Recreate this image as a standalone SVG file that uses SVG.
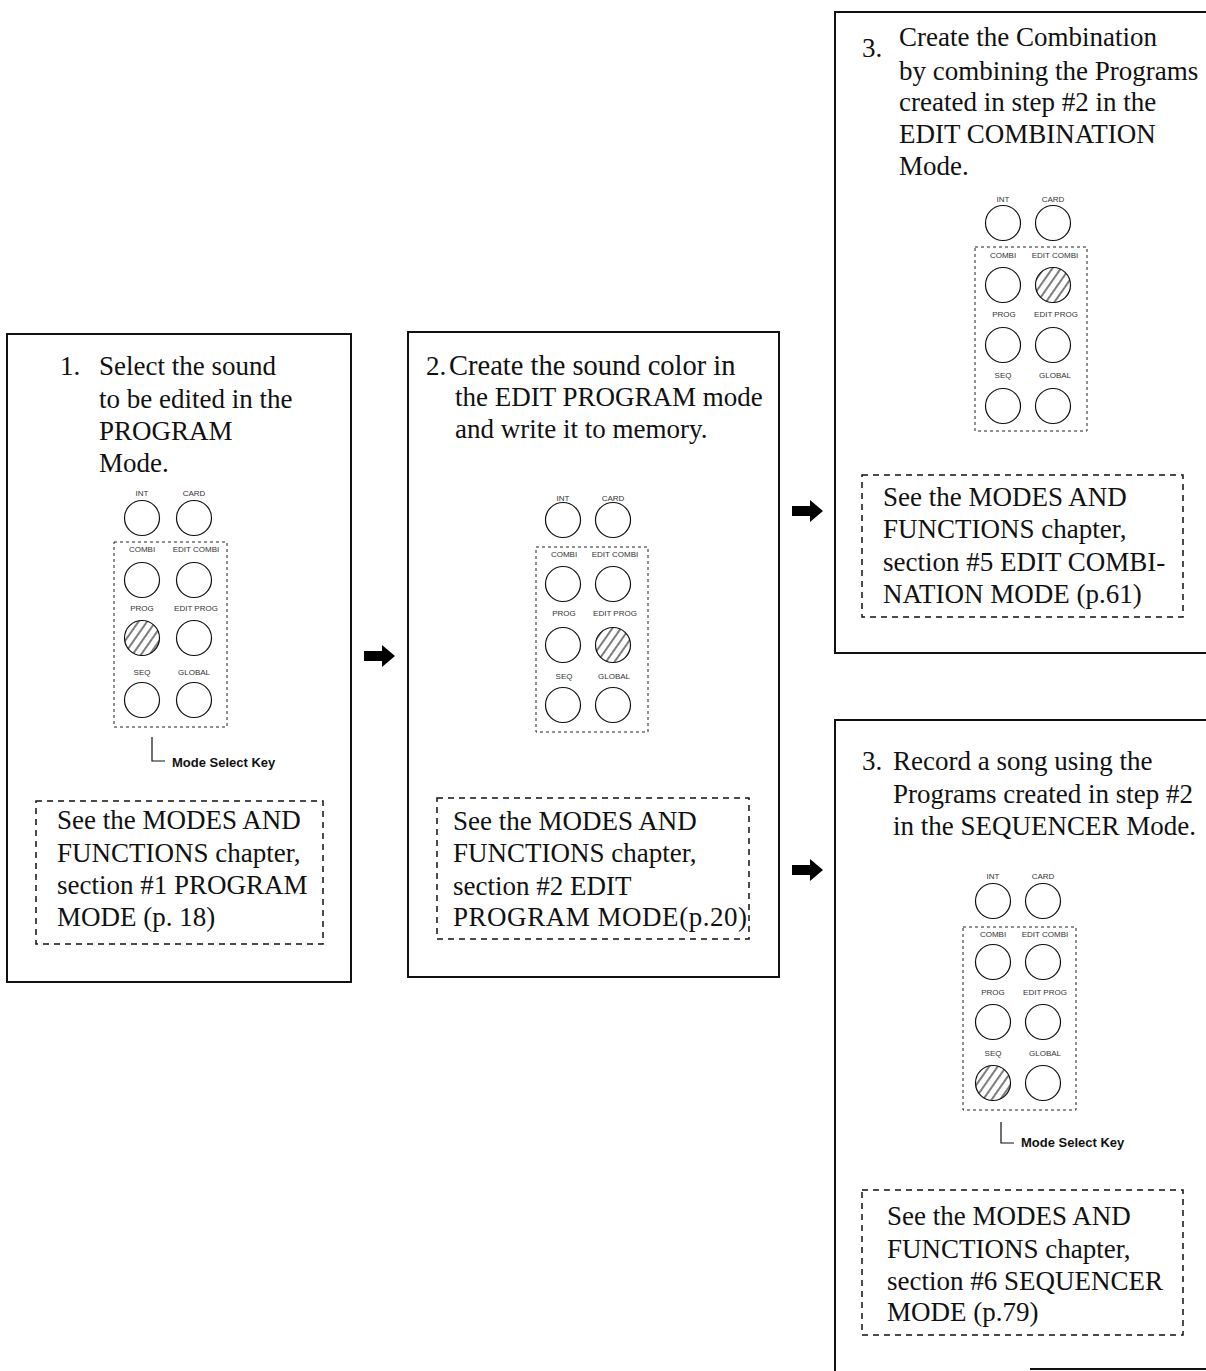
<svg xmlns="http://www.w3.org/2000/svg" width="1206" height="1371" viewBox="0 0 1206 1371">
<style>
.frame{fill:none;stroke:#111;stroke-width:2}
.ref{fill:none;stroke:#111;stroke-width:1.5;stroke-dasharray:6 5}
.pan{fill:none;stroke:#222;stroke-width:1;stroke-dasharray:3 3}
.btn{fill:#fff;stroke:#111;stroke-width:1.2}
.hat{fill:url(#hatch);stroke:#111;stroke-width:1.2}
.t{font-family:"Liberation Serif","Times New Roman",serif;font-size:27px;fill:#111}
.k{font-family:"Liberation Sans",Arial,sans-serif;font-size:8px;fill:#333;text-anchor:middle}
.msk{font-family:"Liberation Sans",Arial,sans-serif;font-size:13px;font-weight:bold;fill:#111}
.lead{fill:none;stroke:#111;stroke-width:1.2}
.arrow{fill:#000}
</style>
<defs>
<pattern id="hatch" width="7" height="7" patternUnits="userSpaceOnUse" patternTransform="rotate(35)">
<line x1="1" y1="0" x2="1" y2="7" stroke="#111" stroke-width="1.1"/>
</pattern>
<polygon id="arr" class="arrow" points="0,-5 18,-5 18,-11 31,0 18,11 18,5 0,5"/>
</defs>
<rect width="1206" height="1371" fill="#fff"/>

<g id="step1">
<rect class="frame" x="7" y="334" width="344" height="648"/>
<text class="t" x="60" y="375">1.</text>
<text class="t" x="99" y="375">Select the sound</text>
<text class="t" x="99" y="408">to be edited in the</text>
<text class="t" x="99" y="440">PROGRAM</text>
<text class="t" x="99" y="472">Mode.</text>
<g id="panel1">
<text class="k" x="142" y="496">INT</text><text class="k" x="194" y="496">CARD</text>
<circle class="btn" cx="142" cy="518" r="17.5"/><circle class="btn" cx="194" cy="518" r="17.5"/>
<rect class="pan" x="114" y="542" width="113" height="185"/>
<text class="k" x="142" y="552">COMBI</text><text class="k" x="196" y="552">EDIT COMBI</text>
<circle class="btn" cx="142" cy="580" r="17.5"/><circle class="btn" cx="194" cy="580" r="17.5"/>
<text class="k" x="142" y="611">PROG</text><text class="k" x="196" y="611">EDIT PROG</text>
<circle class="hat" cx="142" cy="638" r="17.5"/><circle class="btn" cx="194" cy="638" r="17.5"/>
<text class="k" x="142" y="675">SEQ</text><text class="k" x="194" y="675">GLOBAL</text>
<circle class="btn" cx="142" cy="700" r="17.5"/><circle class="btn" cx="194" cy="700" r="17.5"/>
<path class="lead" d="M152,737 V761 H165"/>
<text class="msk" x="172" y="767">Mode Select Key</text>
</g>
<rect class="ref" x="36" y="801" width="287" height="143"/>
<text class="t" x="57" y="829">See the MODES AND</text>
<text class="t" x="57" y="862">FUNCTIONS chapter,</text>
<text class="t" x="57" y="894">section #1 PROGRAM</text>
<text class="t" x="57" y="926">MODE (p. 18)</text>
</g>

<g id="step2">
<rect class="frame" x="408" y="332" width="371" height="645"/>
<text class="t" x="426" y="375">2.</text>
<text class="t" x="449" y="375" style="font-size:28.5px">Create the sound color in</text>
<text class="t" x="455" y="406">the EDIT PROGRAM mode</text>
<text class="t" x="455" y="438">and write it to memory.</text>
<g id="panel2">
<text class="k" x="563" y="501">INT</text><text class="k" x="613" y="501">CARD</text>
<circle class="btn" cx="563" cy="520" r="17.5"/><circle class="btn" cx="613" cy="520" r="17.5"/>
<rect class="pan" x="536" y="547" width="112" height="185"/>
<text class="k" x="564" y="557">COMBI</text><text class="k" x="615" y="557">EDIT COMBI</text>
<circle class="btn" cx="563" cy="584" r="17.5"/><circle class="btn" cx="613" cy="584" r="17.5"/>
<text class="k" x="564" y="616">PROG</text><text class="k" x="615" y="616">EDIT PROG</text>
<circle class="btn" cx="563" cy="645" r="17.5"/><circle class="hat" cx="613" cy="645" r="17.5"/>
<text class="k" x="564" y="679">SEQ</text><text class="k" x="614" y="679">GLOBAL</text>
<circle class="btn" cx="563" cy="705" r="17.5"/><circle class="btn" cx="613" cy="705" r="17.5"/>
</g>
<rect class="ref" x="437" y="798" width="312" height="141"/>
<text class="t" x="453" y="830">See the MODES AND</text>
<text class="t" x="453" y="862">FUNCTIONS chapter,</text>
<text class="t" x="453" y="895">section #2 EDIT</text>
<text class="t" x="453" y="926" textLength="294" lengthAdjust="spacing">PROGRAM MODE(p.20)</text>
</g>

<g id="step3a">
<path class="frame" d="M1206,12 H835 V653 H1206"/>
<text class="t" x="862" y="57">3.</text>
<text class="t" x="899" y="46">Create the Combination</text>
<text class="t" x="899" y="80">by combining the Programs</text>
<text class="t" x="899" y="111">created in step #2 in the</text>
<text class="t" x="899" y="143">EDIT COMBINATION</text>
<text class="t" x="899" y="175">Mode.</text>
<g id="panel3">
<text class="k" x="1003" y="202">INT</text><text class="k" x="1053" y="202">CARD</text>
<circle class="btn" cx="1003" cy="223" r="17.5"/><circle class="btn" cx="1053" cy="223" r="17.5"/>
<rect class="pan" x="975" y="247" width="112" height="184"/>
<text class="k" x="1003" y="258">COMBI</text><text class="k" x="1055" y="258">EDIT COMBI</text>
<circle class="btn" cx="1003" cy="285" r="17.5"/><circle class="hat" cx="1053" cy="285" r="17.5"/>
<text class="k" x="1004" y="317">PROG</text><text class="k" x="1056" y="317">EDIT PROG</text>
<circle class="btn" cx="1003" cy="345" r="17.5"/><circle class="btn" cx="1053" cy="345" r="17.5"/>
<text class="k" x="1003" y="378">SEQ</text><text class="k" x="1055" y="378">GLOBAL</text>
<circle class="btn" cx="1003" cy="406" r="17.5"/><circle class="btn" cx="1053" cy="406" r="17.5"/>
</g>
<rect class="ref" x="862" y="475" width="321" height="142"/>
<text class="t" x="883" y="506">See the MODES AND</text>
<text class="t" x="883" y="538">FUNCTIONS chapter,</text>
<text class="t" x="883" y="571">section #5 EDIT COMBI-</text>
<text class="t" x="883" y="603">NATION MODE (p.61)</text>
</g>

<g id="step3b">
<path class="frame" d="M1206,720 H835 V1371"/>
<path class="frame" d="M1030,1369 H1206"/>
<text class="t" x="862" y="770">3.</text>
<text class="t" x="893" y="770">Record a song using the</text>
<text class="t" x="893" y="803">Programs created in step #2</text>
<text class="t" x="893" y="835">in the SEQUENCER Mode.</text>
<g id="panel4">
<text class="k" x="993" y="879">INT</text><text class="k" x="1043" y="879">CARD</text>
<circle class="btn" cx="993" cy="901" r="17.5"/><circle class="btn" cx="1043" cy="901" r="17.5"/>
<rect class="pan" x="963" y="927" width="113" height="183"/>
<text class="k" x="993" y="937">COMBI</text><text class="k" x="1045" y="937">EDIT COMBI</text>
<circle class="btn" cx="993" cy="962" r="17.5"/><circle class="btn" cx="1043" cy="962" r="17.5"/>
<text class="k" x="993" y="995">PROG</text><text class="k" x="1045" y="995">EDIT PROG</text>
<circle class="btn" cx="993" cy="1022" r="17.5"/><circle class="btn" cx="1043" cy="1022" r="17.5"/>
<text class="k" x="993" y="1056">SEQ</text><text class="k" x="1045" y="1056">GLOBAL</text>
<circle class="hat" cx="993" cy="1083" r="17.5"/><circle class="btn" cx="1043" cy="1083" r="17.5"/>
<path class="lead" d="M1001,1122 V1143 H1014"/>
<text class="msk" x="1021" y="1147">Mode Select Key</text>
</g>
<rect class="ref" x="862" y="1190" width="321" height="145"/>
<text class="t" x="887" y="1225">See the MODES AND</text>
<text class="t" x="887" y="1258">FUNCTIONS chapter,</text>
<text class="t" x="887" y="1290">section #6 SEQUENCER</text>
<text class="t" x="887" y="1321">MODE (p.79)</text>
</g>

<g id="connectors">
<use href="#arr" x="364" y="656"/>
<use href="#arr" x="792" y="511"/>
<use href="#arr" x="792" y="870"/>
</g>
</svg>
